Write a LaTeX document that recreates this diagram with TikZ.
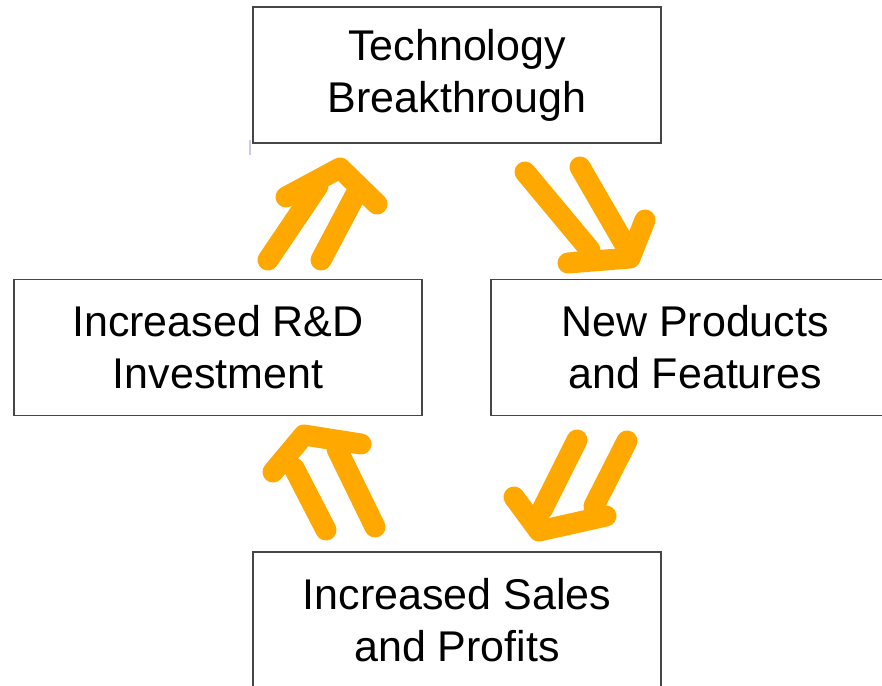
\documentclass[tikz,border=0pt]{standalone}
\usepackage{fontspec}
\setmainfont{Liberation Sans}
\definecolor{boxline}{RGB}{70,70,70}
\definecolor{flow}{RGB}{255,168,0}
\definecolor{tick}{RGB}{200,204,222}
\begin{document}
\begin{tikzpicture}[x=1pt,y=-1pt,
  stage/.style={draw=boxline,line width=1.3pt,fill=white,inner sep=0pt,
    minimum width=408pt,minimum height=136pt,align=center,
    font=\fontsize{43}{52}\selectfont},
  flowstroke/.style={draw=flow,line width=21pt,line cap=round,line join=round}]
  \useasboundingbox (0,0) rectangle (882,685);
  \fill[white] (0,0) rectangle (882,685);

  % four stages of the cycle
  \node[stage] (tech)  at (457,75)    {Technology\\Breakthrough};
  \node[stage] (rnd)   at (218,347.5) {Increased R\&D\\Investment};
  \node[stage] (prod)  at (695,347.5) {New Products\\and Features};
  \node[stage] (sales) at (457,620)   {Increased Sales\\and Profits};

  % small mark under the top box
  \draw[tick,line width=1.2pt] (250,140) -- (250,155);

  % hand-drawn double arrows between the stages
  % R&D -> technology
  \draw[flowstroke] (286,197) -- (340,168) -- (377,204);
  \draw[flowstroke] (268,260) -- (318,186);
  \draw[flowstroke] (321,260) -- (357,192);

  % technology -> new products
  \draw[flowstroke] (525,172) -- (590,250);
  \draw[flowstroke] (580,167) -- (624,243);
  \draw[flowstroke] (568,263) -- (630,258) -- (645,220);

  % new products -> sales
  \draw[flowstroke] (577,440) -- (542,510);
  \draw[flowstroke] (627,441) -- (594,506);
  \draw[flowstroke] (514,497) -- (539,531) -- (606,516);

  % sales -> R&D
  \draw[flowstroke] (273,472) -- (304,435) -- (361,444);
  \draw[flowstroke] (326,530) -- (294,468);
  \draw[flowstroke] (375,527) -- (337,449);
\end{tikzpicture}
\end{document}
